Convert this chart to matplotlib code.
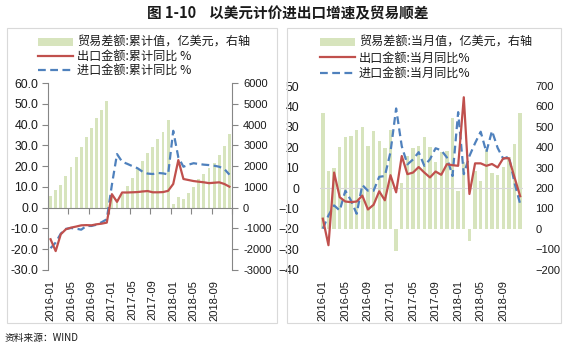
import numpy as np
import matplotlib
matplotlib.use("Agg")
import matplotlib.pyplot as plt
from matplotlib.patches import Patch, Rectangle
from matplotlib.lines import Line2D
from matplotlib.ticker import FuncFormatter

plt.rcParams['font.family'] = ['Noto Sans CJK SC', 'DejaVu Sans']

# ---------------- data ----------------
months = [f"{y}-{m:02d}" for y in (2016, 2017, 2018) for m in range(1, 13)]
tick_labels = ["2016-01", "2016-05", "2016-09", "2017-01", "2017-05",
               "2017-09", "2018-01", "2018-05", "2018-09"]

# left: cumulative
cum_balance = [577, 846, 1105, 1505, 1938, 2418, 2899, 3413, 3813, 4293, 4710, 5110,
               500, 420, 660, 1040, 1450, 1850, 2230, 2611, 2932, 3284, 3654, 4215,
               175, 529, 413, 688, 976, 1375, 1615, 1904, 2163, 2529, 2981, 3538]
cum_export = [-15.2, -20.9, -12.8, -10.4, -9.6, -9.1, -8.5, -8.4, -8.5, -8.0, -7.7, -7.2,
              6.5, 2.8, 7.3, 7.3, 7.4, 7.5, 7.8, 8.0, 7.4, 7.4, 7.5, 8.1,
              11.4, 22.9, 13.8, 13.3, 12.8, 12.5, 12.2, 11.8, 12.0, 12.2, 11.4, 10.1]
cum_import = [-19.5, -16.8, -12.5, -10.2, -9.8, -10.1, -10.6, -8.8, -8.8, -8.2, -7.0, -5.6,
              11.0, 25.8, 22.1, 21.1, 20.0, 19.0, 17.3, 16.4, 16.2, 16.7, 16.5, 16.0,
              37.0, 24.2, 19.7, 20.7, 21.4, 21.0, 20.7, 20.5, 20.2, 19.7, 18.6, 15.9]

# right: monthly
mon_balance = [570, 283, 300, 399, 448, 453, 485, 501, 404, 481, 432, 396,
               485, -110, 226, 359, 396, 407, 448, 399, 330, 375, 384, 541,
               186, 330, -60, 285, 234, 390, 275, 262, 304, 352, 417, 570]
mon_export = [-15.0, -28.0, 7.6, -4.5, -6.6, -6.9, -6.6, -3.7, -10.5, -8.2, -1.6, -6.0,
              6.3, -2.1, 15.7, 6.8, 7.6, 10.3, 7.6, 5.2, 8.1, 6.5, 11.7, 11.2,
              10.9, 44.5, -2.9, 12.1, 12.1, 10.9, 11.8, 10.1, 14.6, 14.6, 5.2, -4.0]
mon_import = [-19.9, -13.4, -8.5, -11.0, -1.3, -6.1, -12.6, 1.5, -1.3, -1.3, 5.5, 5.9,
              17.6, 39.0, 20.5, 11.6, 14.0, 17.6, 10.9, 14.1, 19.5, 18.5, 15.0, 5.9,
              37.2, 6.8, 15.7, 22.0, 27.6, 17.6, 28.0, 19.7, 14.3, 15.5, 2.5, -7.8]

left_legend = ["贸易差额:累计值，亿美元，右轴", "出口金额:累计同比 %", "进口金额:累计同比 %"]
right_legend = ["贸易差额:当月值，亿美元，右轴", "出口金额:当月同比%", "进口金额:当月同比%"]
title = "图 1-10    以美元计价进出口增速及贸易顺差"
source = "资料来源：WIND"

left_ticks = list(range(-30, 61, 10))
left_rticks = list(range(-3000, 6001, 1000))
right_ticks = list(range(-40, 51, 10))
right_rticks = list(range(-200, 701, 100))

# ---------------- style ----------------
W, H = 568, 350
BAR = '#d7e4bd'
RED = '#c0504d'
BLUE = '#4f81bd'
GRAY = '#868686'
TXT = '#1a1a1a'
NUM_FONT = ['Liberation Sans', 'DejaVu Sans']
LSIZE = 8.8   # left-side tick labels
RSIZE = 8.0   # right-side tick labels
LEG = 8.7

fig = plt.figure(figsize=(W / 100, H / 100), dpi=100)
x = np.arange(len(months))
tick_pos = [months.index(t) for t in tick_labels]


def fx(px):
    return px / W


def fy(py):
    return 1 - py / H


# panel frames
for (x0, x1) in [(7, 277), (287, 561)]:
    fig.patches.append(Rectangle((fx(x0), fy(323)), fx(x1 - x0), (323 - 28) / H,
                                 transform=fig.transFigure, fill=False,
                                 edgecolor='#d9d9d9', linewidth=0.8))

# ---------------- left chart ----------------
ax1 = fig.add_axes([fx(48), fy(270), fx(184), 187 / H])
ax1r = ax1.twinx()
ax1.set_zorder(ax1r.get_zorder() + 1)
ax1.patch.set_visible(False)

ax1r.bar(x, cum_balance, width=0.55, color=BAR, zorder=1)
ax1.plot(x, cum_export, color=RED, lw=1.6, zorder=3)
ax1.plot(x, cum_import, color=BLUE, lw=1.6, dashes=(3.5, 2.0), zorder=2)

ax1.set_xlim(-0.5, 35.5)
ax1.set_ylim(-30, 60)
ax1r.set_ylim(-3000, 6000)
ax1.set_yticks(left_ticks)
ax1.yaxis.set_major_formatter(FuncFormatter(lambda v, p: f"{v:.1f}"))
ax1r.set_yticks(left_rticks)
ax1r.yaxis.set_major_formatter(FuncFormatter(lambda v, p: f"{v:.0f}"))

for s in ['top', 'bottom', 'right']:
    ax1.spines[s].set_visible(False)
ax1.spines['left'].set_color(GRAY)
for s in ['top', 'bottom', 'left']:
    ax1r.spines[s].set_visible(False)
ax1r.spines['right'].set_color(GRAY)

ax1.tick_params(axis='y', length=4, color=GRAY, pad=3, labelcolor=TXT, labelsize=LSIZE)
ax1r.tick_params(axis='y', length=4, color=GRAY, pad=4, labelcolor=TXT, labelsize=RSIZE)
ax1.set_xticks(tick_pos)
ax1.set_xticklabels(tick_labels, rotation=90)
ax1.tick_params(axis='x', length=0, pad=7, labelcolor=TXT, labelsize=8)
for lab in ax1.get_yticklabels() + ax1r.get_yticklabels() + ax1.get_xticklabels():
    lab.set_fontfamily(NUM_FONT)

sec = ax1.secondary_xaxis(30 / 90)
sec.xaxis.set_ticks_position('bottom')
sec.set_xticks(np.arange(3.5, 36, 4))
sec.set_xticklabels([])
sec.tick_params(axis='x', length=4, color=GRAY, direction='out')
sec.spines['bottom'].set_color(GRAY)
sec.spines['top'].set_visible(False)

h1 = [Patch(facecolor=BAR, edgecolor='none'),
      Line2D([], [], color=RED, lw=1.6),
      Line2D([], [], color=BLUE, lw=1.6, dashes=(3.5, 2.0))]
fig.legend(h1, left_legend, loc='upper left', bbox_to_anchor=(fx(38), fy(36)),
           frameon=False, fontsize=LEG, handlelength=2.9, handletextpad=0.3,
           labelspacing=0.08, borderpad=0, borderaxespad=0, labelcolor=TXT)

# ---------------- right chart ----------------
ax2 = fig.add_axes([fx(320), fy(270.7), fx(203), 185.7 / H])
ax2r = ax2.twinx()
ax2.set_zorder(ax2r.get_zorder() + 1)
ax2.patch.set_visible(False)

ax2r.bar(x, mon_balance, width=0.6, color=BAR, zorder=1)
ax2.axhline(0, color='#d9d9d9', lw=0.8, zorder=1)
ax2.plot(x, mon_export, color=RED, lw=1.6, zorder=3)
ax2.plot(x, mon_import, color=BLUE, lw=1.6, dashes=(3.5, 2.0), zorder=2)

ax2.set_xlim(-0.5, 35.5)
ax2.set_ylim(-40.5, 50.5)
ax2r.set_ylim(-205, 705)
ax2.set_yticks(right_ticks)
ax2r.set_yticks(right_rticks)
for a in (ax2, ax2r):
    for s in a.spines.values():
        s.set_visible(False)
ax2.tick_params(axis='y', length=0, pad=15, labelcolor=TXT, labelsize=LSIZE)
ax2r.tick_params(axis='y', length=0, pad=9, labelcolor=TXT, labelsize=RSIZE)
ax2.set_xticks(tick_pos)
ax2.set_xticklabels(tick_labels, rotation=90)
ax2.tick_params(axis='x', length=0, pad=7, labelcolor=TXT, labelsize=8)
for lab in ax2.get_yticklabels() + ax2r.get_yticklabels() + ax2.get_xticklabels():
    lab.set_fontfamily(NUM_FONT)

h2 = [Patch(facecolor=BAR, edgecolor='none'),
      Line2D([], [], color=RED, lw=1.6),
      Line2D([], [], color=BLUE, lw=1.6, dashes=(3.5, 2.0))]
fig.legend(h2, right_legend, loc='upper left', bbox_to_anchor=(fx(320), fy(36)),
           frameon=False, fontsize=LEG, handlelength=2.9, handletextpad=0.3,
           labelspacing=0.2, borderpad=0, borderaxespad=0, labelcolor=TXT)

# ---------------- texts ----------------
fig.text(fx(288), fy(13), title, ha='center', va='center', fontsize=10.5,
         fontweight='bold', color=TXT)
fig.text(fx(5), fy(338), source, ha='left', va='center', fontsize=7, color=TXT)

fig.savefig("out.png", dpi=100)
